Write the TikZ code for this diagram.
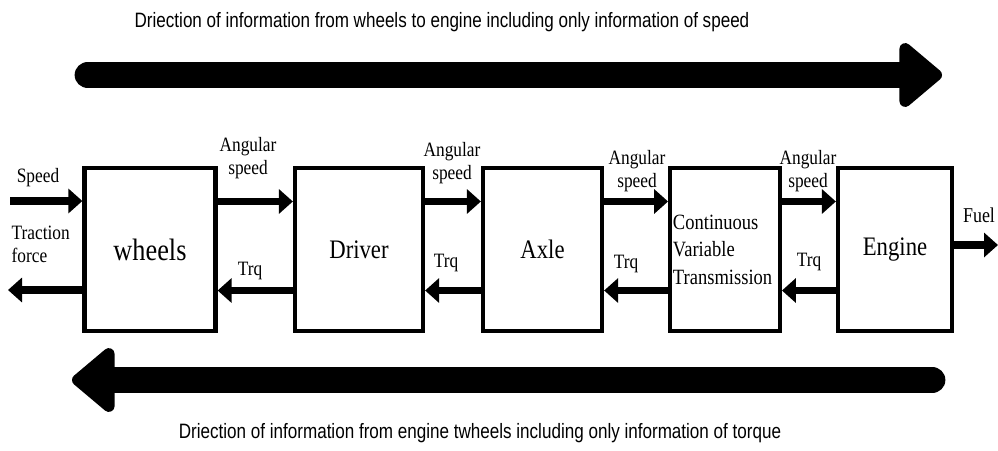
\documentclass[tikz,border=0pt]{standalone}
\usepackage{fontspec}
\setmainfont{Liberation Serif}
\newfontfamily\capfont[FakeStretch=0.82]{Liberation Sans}
\newfontfamily\tagfont[FakeStretch=0.85]{Liberation Serif}
\usetikzlibrary{arrows.meta}
\tikzset{
  blockbox/.style={draw,line width=3pt,minimum height=4.075cm,inner sep=2pt,font=\tagfont\fontsize{19}{22}\selectfont},
  bigarrow/.style={line width=19pt,line cap=round,-{Triangle[length=1.15cm,width=1.85cm,round]}},
  sigarrow/.style={line width=5.5pt,-{Triangle[length=0.35cm,width=0.6cm]}},
  sigtext/.style={font=\tagfont\fontsize{14.5}{16.5}\selectfont,inner sep=1pt,align=center},
  captext/.style={font=\capfont\fontsize{14.8}{16}\selectfont}
}
\begin{document}
\begin{tikzpicture}[x=0.025cm,y=-0.025cm]
  \useasboundingbox (0,0) rectangle (998,450);
  % captions
  \node[captext] (captop) at (442,22) {Driection of information from wheels to engine including only information of speed};
  \node[captext] (capbot) at (480,433) {Driection of information from engine twheels including only information of torque};
  % direction arrows
  \coordinate (topstart) at (88,75);
  \coordinate (topend) at (942,75);
  \coordinate (botstart) at (932,380);
  \coordinate (botend) at (72,380);
  \draw[bigarrow] (topstart) -- (topend);
  \draw[bigarrow] (botstart) -- (botend);
  % blocks
  \node[blockbox,minimum width=3.275cm,font=\tagfont\fontsize{22}{24}\selectfont] (wheels) at (150,249.5) {wheels};
  \node[blockbox,minimum width=3.2cm] (driver) at (359,249.5) {Driver};
  \node[blockbox,minimum width=2.975cm] (axle) at (542.5,249.5) {Axle};
  \node[blockbox,minimum width=2.7cm,font=\tagfont\fontsize{15.5}{17.5}\selectfont,align=left,text width=2.6cm] (cvt) at (725,249.5) {Continuous\\[2pt]Variable\\[2pt]Transmission};
  \node[blockbox,minimum width=2.85cm] (engine) at (895,249.5) {Engine};
  % ends
  \coordinate (speedin) at (10,201);
  \coordinate (tracout) at (8,290);
  \coordinate (fuelout) at (998,245);
  \draw[sigarrow] (speedin) -- (speedin -| wheels.west);
  \draw[sigarrow] (tracout -| wheels.west) -- (tracout);
  \draw[sigarrow] (fuelout -| engine.east) -- (fuelout);
  % speed forward, torque back
  \foreach \a/\b in {wheels/driver,driver/axle,axle/cvt,cvt/engine}{
    \draw[sigarrow] ([yshift=1.2cm]\a.east) -- ([yshift=1.2cm]\b.west);
    \draw[sigarrow] ([yshift=-1.025cm]\b.west) -- ([yshift=-1.025cm]\a.east);
  }
  % labels
  \node[sigtext] (lspeed) at (38,178) {Speed};
  \node[sigtext,align=left,anchor=west] (ltrac) at (10,244) {Traction\\force};
  \node[sigtext] (lang1) at (248,158) {Angular\\speed};
  \node[sigtext] (lang2) at (452,163) {Angular\\speed};
  \node[sigtext] (lang3) at (637,171) {Angular\\speed};
  \node[sigtext] (lang4) at (808,171) {Angular\\speed};
  \node[sigtext] (ltrq1) at (250,271) {Trq};
  \node[sigtext] (ltrq2) at (446,263) {Trq};
  \node[sigtext] (ltrq3) at (626,264) {Trq};
  \node[sigtext] (ltrq4) at (809,262) {Trq};
  \node[sigtext,font=\tagfont\fontsize{15}{17}\selectfont] (lfuel) at (979,215) {Fuel};
\end{tikzpicture}
\end{document}
